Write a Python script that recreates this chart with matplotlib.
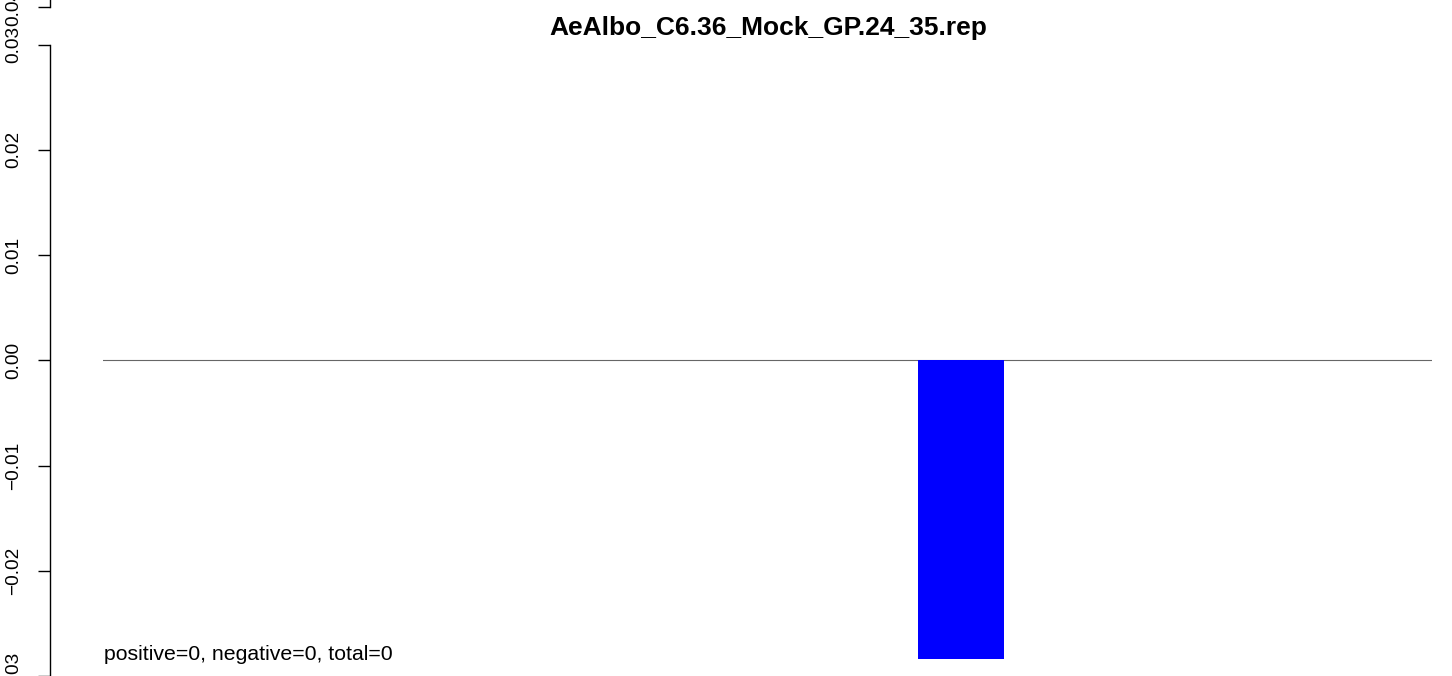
import matplotlib
matplotlib.use('Agg')
import matplotlib.pyplot as plt

plt.rcParams['font.family'] = ['Liberation Sans', 'DejaVu Sans']

title = 'AeAlbo_C6.36_Mock_GP.24_35.rep'
summary = 'positive=0, negative=0, total=0'

# one bar, x given as fraction of the plot width
bar_x = [0.6454]
bar_values = [-0.0284]
bar_width = 0.0647

y_ticks = [-0.03, -0.02, -0.01, 0.00, 0.01, 0.02, 0.03]
y_labels = ['\u22120.03', '\u22120.02', '\u22120.01', '0.00', '0.01', '0.02', '0.03']

W, H = 1452, 676
fig = plt.figure(figsize=(W / 100, H / 100), dpi=100)

left = 103.3 / W
width = (1432.3 - 103.3) / W
ax = fig.add_axes([left, 0, width, 1])
ax.set_facecolor('none')

ax.bar(bar_x, bar_values, width=bar_width, color='#0000ff', zorder=2)
ax.axhline(0, color='#666666', lw=0.8, zorder=1)

ax.set_xlim(0, 1)
ax.set_ylim(-(676 - 361.2) / 10550, 361.2 / 10550)

for s in ['top', 'right', 'bottom']:
    ax.spines[s].set_visible(False)
ax.spines['left'].set_position(('outward', 38.4))
ax.spines['left'].set_bounds(-0.03, 0.03)
ax.spines['left'].set_linewidth(1.0)
ax.spines['left'].set_clip_on(False)
ax.set_xticks([])
ax.set_yticks(y_ticks)
ax.set_yticklabels(y_labels, rotation=90, va='center', fontsize=13.7)
ax.tick_params(axis='y', length=8.6, width=1.0, pad=11.6)

# fragment of an axis above the panel
ax_top = fig.add_axes([left, 1 - 7 / H, width, 7 / H])
ax_top.set_facecolor('none')
ax_top.set_xlim(0, 1)
ax_top.set_ylim(0.04, 0.0401)
for s in ['top', 'right', 'bottom']:
    ax_top.spines[s].set_visible(False)
ax_top.spines['left'].set_position(('outward', 38.4))
ax_top.spines['left'].set_linewidth(1.0)
ax_top.set_xticks([])
ax_top.set_yticks([0.04])
ax_top.set_yticklabels(['0.04'], rotation=90, va='center', fontsize=13.7)
ax_top.tick_params(axis='y', length=8.6, width=1.0, pad=11.6)
for lab in ax_top.get_yticklabels():
    lab.set_clip_on(False)

fig.text(left + width / 2, 1 - 35 / H, title, ha='center', va='baseline',
         fontsize=19, fontweight='bold')
ax.text(0.0005, 16 / H, summary, transform=ax.transAxes, ha='left',
        va='baseline', fontsize=15.3)

fig.savefig('out.png', dpi=100)
